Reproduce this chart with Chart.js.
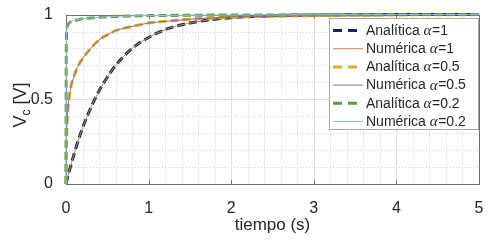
<!DOCTYPE html>
<html>
<head>
<meta charset="utf-8">
<script src="https://cdn.jsdelivr.net/npm/chart.js@4.4.0/dist/chart.umd.min.js"></script>
<style>
  html, body { margin: 0; padding: 0; background: #fff; }
  #wrap { width: 500px; height: 240px; }
</style>
</head>
<body>
<div id="wrap"><canvas id="vcChart" width="500" height="240"></canvas></div>
<script>
// time axis (s) and capacitor voltage
const timeS = [0, 0.002, 0.005, 0.01, 0.02, 0.05, 0.1, 0.15, 0.2, 0.3, 0.4, 0.5, 0.6, 0.8, 1, 1.25, 1.5, 1.75, 2, 2.5, 3, 3.5, 4, 4.5, 5];
const vcAlpha1 = [0, 0.004, 0.01, 0.02, 0.04, 0.095, 0.18, 0.26, 0.33, 0.45, 0.55, 0.63, 0.70, 0.80, 0.865, 0.92, 0.95, 0.97, 0.982, 0.993, 0.997, 0.999, 1, 1, 1];
const vcAlpha05 = [0, 0.15, 0.25, 0.33, 0.42, 0.55, 0.64, 0.70, 0.74, 0.80, 0.85, 0.88, 0.905, 0.93, 0.95, 0.962, 0.973, 0.98, 0.985, 0.99, 0.994, 0.996, 0.998, 0.999, 1];
const vcAlpha02 = [0, 0.6, 0.85, 0.91, 0.935, 0.955, 0.965, 0.97, 0.975, 0.98, 0.984, 0.987, 0.989, 0.992, 0.994, 0.995, 0.996, 0.997, 0.997, 0.998, 0.999, 0.999, 1, 1, 1];
const seriesLabels = ['Analítica α=1', 'Numérica α=1', 'Analítica α=0.5', 'Numérica α=0.5', 'Analítica α=0.2', 'Numérica α=0.2'];
const xTicks = [0, 1, 2, 3, 4, 5];
const yTicks = [0, 0.5, 1];

const FONT = "'Liberation Sans', Arial, sans-serif";
const TEXT = '#262626';

function points(values) {
    return timeS.map((t, i) => ({ x: t, y: values[i] }));
}

function analytic(label, values, color, order) {
    return {
        label: label, data: points(values), borderColor: color, backgroundColor: color,
        borderWidth: 3, borderDash: [8, 4], pointRadius: 0, fill: false,
        cubicInterpolationMode: 'monotone', clip: 4, order: order
    };
}
function numeric(label, values, color, order) {
    return {
        label: label, data: points(values), borderColor: color, backgroundColor: color,
        borderWidth: 1, pointRadius: 0, fill: false,
        cubicInterpolationMode: 'monotone', clip: 4, order: order
    };
}

// grid with major and dotted minor lines plus the box, drawn behind the curves
const gridBox = {
    id: 'gridBox',
    beforeDatasetsDraw(chart) {
        const { ctx, chartArea: a, scales: { x, y } } = chart;
        ctx.save();
        ctx.lineWidth = 1;
        // minor dotted
        ctx.strokeStyle = '#cfcfcf';
        ctx.setLineDash([1, 2]);
        for (let i = 1; i < 25; i++) {
            if (i % 5 === 0) continue;
            const px = Math.round(x.getPixelForValue(i * 0.2)) + 0.5;
            ctx.beginPath(); ctx.moveTo(px, a.top); ctx.lineTo(px, a.bottom); ctx.stroke();
        }
        for (let i = 1; i < 10; i++) {
            if (i % 5 === 0) continue;
            const py = Math.round(y.getPixelForValue(i * 0.1)) + 0.5;
            ctx.beginPath(); ctx.moveTo(a.left, py); ctx.lineTo(a.right, py); ctx.stroke();
        }
        // major solid
        ctx.setLineDash([]);
        ctx.strokeStyle = '#dedede';
        xTicks.slice(1, -1).forEach(v => {
            const px = Math.round(x.getPixelForValue(v)) + 0.5;
            ctx.beginPath(); ctx.moveTo(px, a.top); ctx.lineTo(px, a.bottom); ctx.stroke();
        });
        yTicks.slice(1, -1).forEach(v => {
            const py = Math.round(y.getPixelForValue(v)) + 0.5;
            ctx.beginPath(); ctx.moveTo(a.left, py); ctx.lineTo(a.right, py); ctx.stroke();
        });
        // box and inward tick marks
        ctx.strokeStyle = '#6e6e6e';
        ctx.strokeRect(Math.round(a.left) + 0.5, Math.round(a.top) + 0.5, Math.round(a.right - a.left), Math.round(a.bottom - a.top));
        xTicks.forEach(v => {
            const px = Math.round(x.getPixelForValue(v)) + 0.5;
            ctx.beginPath(); ctx.moveTo(px, a.bottom); ctx.lineTo(px, a.bottom - 4);
            ctx.moveTo(px, a.top); ctx.lineTo(px, a.top + 4); ctx.stroke();
        });
        yTicks.forEach(v => {
            const py = Math.round(y.getPixelForValue(v)) + 0.5;
            ctx.beginPath(); ctx.moveTo(a.left, py); ctx.lineTo(a.left + 4, py);
            ctx.moveTo(a.right, py); ctx.lineTo(a.right - 4, py); ctx.stroke();
        });
        ctx.restore();
    }
};

// draws "Analítica " + italic alpha + "=1"
function drawLabel(ctx, text, x, y) {
    const parts = text.split('α');
    ctx.font = '14px ' + FONT;
    ctx.fillText(parts[0], x, y);
    let w = ctx.measureText(parts[0]).width;
    ctx.font = "italic 15px 'Liberation Serif', serif";
    ctx.fillText('α', x + w, y);
    w += ctx.measureText('α').width + 0.5;
    ctx.font = '14px ' + FONT;
    ctx.fillText(parts[1], x + w, y);
}

// legend inside the plot, top right, plus the y-axis title with subscript
const insideLegend = {
    id: 'insideLegend',
    afterDatasetsDraw(chart) {
        const { ctx } = chart;
        const sets = chart.data.datasets;
        const bx = 329, by = 18, bw = 149, bh = 111, row = 18.2;
        ctx.save();
        ctx.fillStyle = '#ffffff';
        ctx.fillRect(bx, by, bw, bh);
        ctx.strokeStyle = '#a6a6a6';
        ctx.lineWidth = 1;
        ctx.strokeRect(bx + 0.5, by + 0.5, bw, bh);
        sets.forEach((ds, i) => {
            const cy = by + 12.5 + i * row;
            ctx.strokeStyle = ds.borderColor;
            ctx.lineWidth = ds.borderWidth;
            ctx.setLineDash(ds.borderDash ? [9, 6] : []);
            ctx.beginPath();
            ctx.moveTo(333, cy); ctx.lineTo(363, cy); ctx.stroke();
            ctx.setLineDash([]);
            ctx.fillStyle = TEXT;
            ctx.textBaseline = 'middle';
            ctx.textAlign = 'left';
            drawLabel(ctx, ds.label, 366, cy + 0.5);
        });
        ctx.restore();

        // y title: V_c [V]
        ctx.save();
        ctx.translate(26, 105);
        ctx.rotate(-Math.PI / 2);
        ctx.fillStyle = TEXT;
        ctx.textBaseline = 'alphabetic';
        ctx.font = '18px ' + FONT;
        const wV = ctx.measureText('V').width;
        ctx.font = '12px ' + FONT;
        const wc = ctx.measureText('c').width;
        ctx.font = '18px ' + FONT;
        const wR = ctx.measureText(' [V]').width;
        let sx = -(wV + wc + wR) / 2;
        ctx.fillText('V', sx, 0);
        sx += wV;
        ctx.font = '12px ' + FONT;
        ctx.fillText('c', sx, 4);
        sx += wc;
        ctx.font = '18px ' + FONT;
        ctx.fillText(' [V]', sx, 0);
        ctx.restore();
    }
};

const ctx = document.getElementById('vcChart').getContext('2d');
const vcChart = new Chart(ctx, {
    type: 'line',
    data: {
        datasets: [
            analytic(seriesLabels[0], vcAlpha1, '#13275a', 6),
            numeric(seriesLabels[1], vcAlpha1, '#d0805c', 5),
            analytic(seriesLabels[2], vcAlpha05, '#e3a922', 4),
            numeric(seriesLabels[3], vcAlpha05, '#8a6a9c', 3),
            analytic(seriesLabels[4], vcAlpha02, '#5f9a3c', 2),
            numeric(seriesLabels[5], vcAlpha02, '#8fc0e0', 1)
        ]
    },
    options: {
        responsive: false,
        animation: false,
        layout: { padding: { left: 0, top: 11, right: 21, bottom: 0 } },
        scales: {
            x: {
                type: 'linear', min: 0, max: 5,
                grid: { display: false },
                border: { display: false },
                afterBuildTicks: s => { s.ticks = xTicks.map(v => ({ value: v })); },
                afterFit: s => { s.height = 56; },
                ticks: { color: TEXT, font: { family: FONT, size: 16 }, padding: 7, maxRotation: 0, callback: v => String(v) },
                title: {
                    display: true, text: 'tiempo (s)', color: TEXT,
                    font: { family: FONT, size: 17 }, padding: { top: 0, bottom: 4 }
                }
            },
            y: {
                min: 0, max: 1,
                grid: { display: false },
                border: { display: false },
                afterBuildTicks: s => { s.ticks = yTicks.map(v => ({ value: v })); },
                afterFit: s => { s.width = 66; },
                ticks: { color: TEXT, font: { family: FONT, size: 16 }, padding: 5, callback: v => String(v) }
            }
        },
        plugins: {
            legend: { display: false },
            tooltip: { enabled: false }
        }
    },
    plugins: [gridBox, insideLegend]
});
</script>
</body>
</html>
